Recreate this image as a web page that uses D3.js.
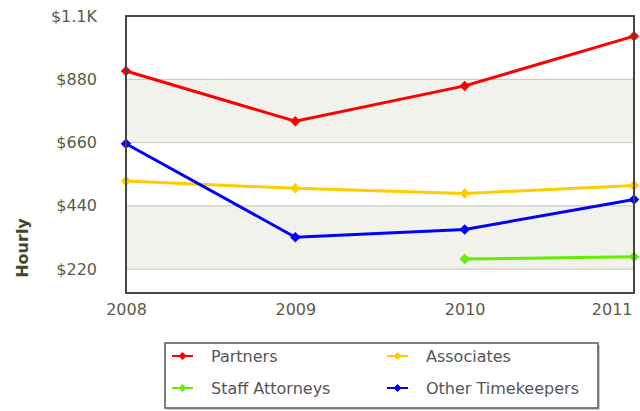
<!DOCTYPE html>
<html>
<head>
<meta charset="utf-8">
<script src="https://cdn.jsdelivr.net/npm/d3@7/dist/d3.min.js"></script>
<style>
  body { margin: 0; background: #fff; }
  text { font-family: "DejaVu Sans", Verdana, sans-serif; }
</style>
</head>
<body>
<div id="chart"></div>
<script>
    // data
    const years = [2008, 2009, 2010, 2011];
    const seriesNames = ["Partners", "Associates", "Staff Attorneys", "Other Timekeepers"];
    const seriesColors = ["#ff0000", "#ffcc00", "#66ee00", "#0000ff"];
    const partners = [909, 734, 857, 1030];
    const associates = [526, 501, 483, 511];
    const staffAttorneys = [null, null, 255, 263];
    const otherTimekeepers = [656, 331, 358, 462];
    const yTicks = [220, 440, 660, 880, 1100];
    const yTickLabels = ["$220", "$440", "$660", "$880", "$1.1K"];

    const allSeries = [partners, associates, staffAttorneys, otherTimekeepers];

    const svgWidth = 640;
    const svgHeight = 411;
    const margin = { top: 16, right: 6, bottom: 118, left: 126 };
    const chartWidth = svgWidth - margin.left - margin.right;
    const chartHeight = svgHeight - margin.top - margin.bottom;

    const svg = d3.select("#chart")
        .append("svg")
        .attr("width", svgWidth)
        .attr("height", svgHeight);

    const chart = svg.append("g")
        .attr("transform", `translate(${margin.left},${margin.top})`);

    const xScale = d3.scalePoint()
        .domain(years)
        .range([0, chartWidth]);

    const yScale = d3.scaleLinear()
        .domain([137, 1100])
        .range([chartHeight, 0]);

    // alternating bands
    const bands = [[660, 880], [220, 440]];
    chart.selectAll(".band")
        .data(bands)
        .enter()
        .append("rect")
        .attr("x", 0)
        .attr("width", chartWidth)
        .attr("y", d => yScale(d[1]))
        .attr("height", d => yScale(d[0]) - yScale(d[1]))
        .attr("fill", "#f2f2ec");

    // grid lines
    chart.selectAll(".grid")
        .data(yTicks.slice(0, 4))
        .enter()
        .append("line")
        .attr("x1", 0)
        .attr("x2", chartWidth)
        .attr("y1", d => yScale(d))
        .attr("y2", d => yScale(d))
        .attr("stroke", "#c4c4bc")
        .attr("stroke-width", 1);

    // lines
    const line = d3.line()
        .defined(d => d != null)
        .x((d, i) => xScale(years[i]))
        .y(d => yScale(d));

    const diamond = d3.symbol().type(d3.symbolDiamond2).size(70);

    allSeries.forEach((values, s) => {
        chart.append("path")
            .datum(values)
            .attr("d", line)
            .attr("fill", "none")
            .attr("stroke", seriesColors[s])
            .attr("stroke-width", 3);

        chart.selectAll(".pt" + s)
            .data(values.map((v, i) => [years[i], v]).filter(d => d[1] != null))
            .enter()
            .append("path")
            .attr("d", diamond)
            .attr("transform", d => `translate(${xScale(d[0])},${yScale(d[1])})`)
            .attr("fill", seriesColors[s]);
    });

    // frame
    chart.append("rect")
        .attr("width", chartWidth)
        .attr("height", chartHeight)
        .attr("fill", "none")
        .attr("stroke", "#444")
        .attr("stroke-width", 2);

    // y axis labels
    const yAxis = chart.append("g")
        .call(d3.axisLeft(yScale).tickValues(yTicks).tickSize(0).tickPadding(29)
            .tickFormat((d, i) => yTickLabels[i]));
    yAxis.select(".domain").remove();
    yAxis.selectAll("text")
        .style("font-size", "16px")
        .style("font-family", "DejaVu Sans, sans-serif")
        .attr("fill", "#5a5a4a");

    // x axis labels
    const xAxis = chart.append("g")
        .attr("transform", `translate(0, ${chartHeight})`)
        .call(d3.axisBottom(xScale).tickSize(0).tickPadding(11));
    xAxis.select(".domain").remove();
    xAxis.selectAll("text")
        .style("font-size", "16px")
        .style("font-family", "DejaVu Sans, sans-serif")
        .attr("fill", "#5a5a4a")
        .attr("text-anchor", (d, i) => i === years.length - 1 ? "end" : "middle")
        .attr("dx", (d, i) => i === years.length - 1 ? "-2" : "0");

    // y title
    svg.append("text")
        .attr("transform", `translate(28, 248) rotate(-90)`)
        .attr("text-anchor", "middle")
        .style("font-size", "16px")
        .style("font-weight", "bold")
        .attr("fill", "#45452f")
        .text("Hourly");

    // legend
    const legend = svg.append("g").attr("transform", "translate(165, 343)");
    legend.append("rect")
        .attr("x", 2).attr("y", 2)
        .attr("width", 433).attr("height", 65)
        .attr("fill", "#ccc");
    legend.append("rect")
        .attr("width", 433).attr("height", 65)
        .attr("fill", "#fff")
        .attr("stroke", "#555")
        .attr("stroke-width", 1.5);

    const legendOrder = [0, 1, 2, 3];
    const items = legend.selectAll(".item")
        .data(legendOrder)
        .enter()
        .append("g")
        .attr("transform", d => `translate(${(d % 2) * 215}, ${d < 2 ? 13 : 45})`);

    items.append("line")
        .attr("x1", 7).attr("x2", 28)
        .attr("stroke", d => seriesColors[d])
        .attr("stroke-width", 2);
    items.append("path")
        .attr("d", d3.symbol().type(d3.symbolDiamond2).size(40))
        .attr("transform", "translate(17.5,0)")
        .attr("fill", d => seriesColors[d]);
    items.append("text")
        .attr("x", 46)
        .attr("dy", "0.35em")
        .style("font-size", "16px")
        .attr("fill", "#555")
        .text(d => seriesNames[d]);
</script>
</body>
</html>
